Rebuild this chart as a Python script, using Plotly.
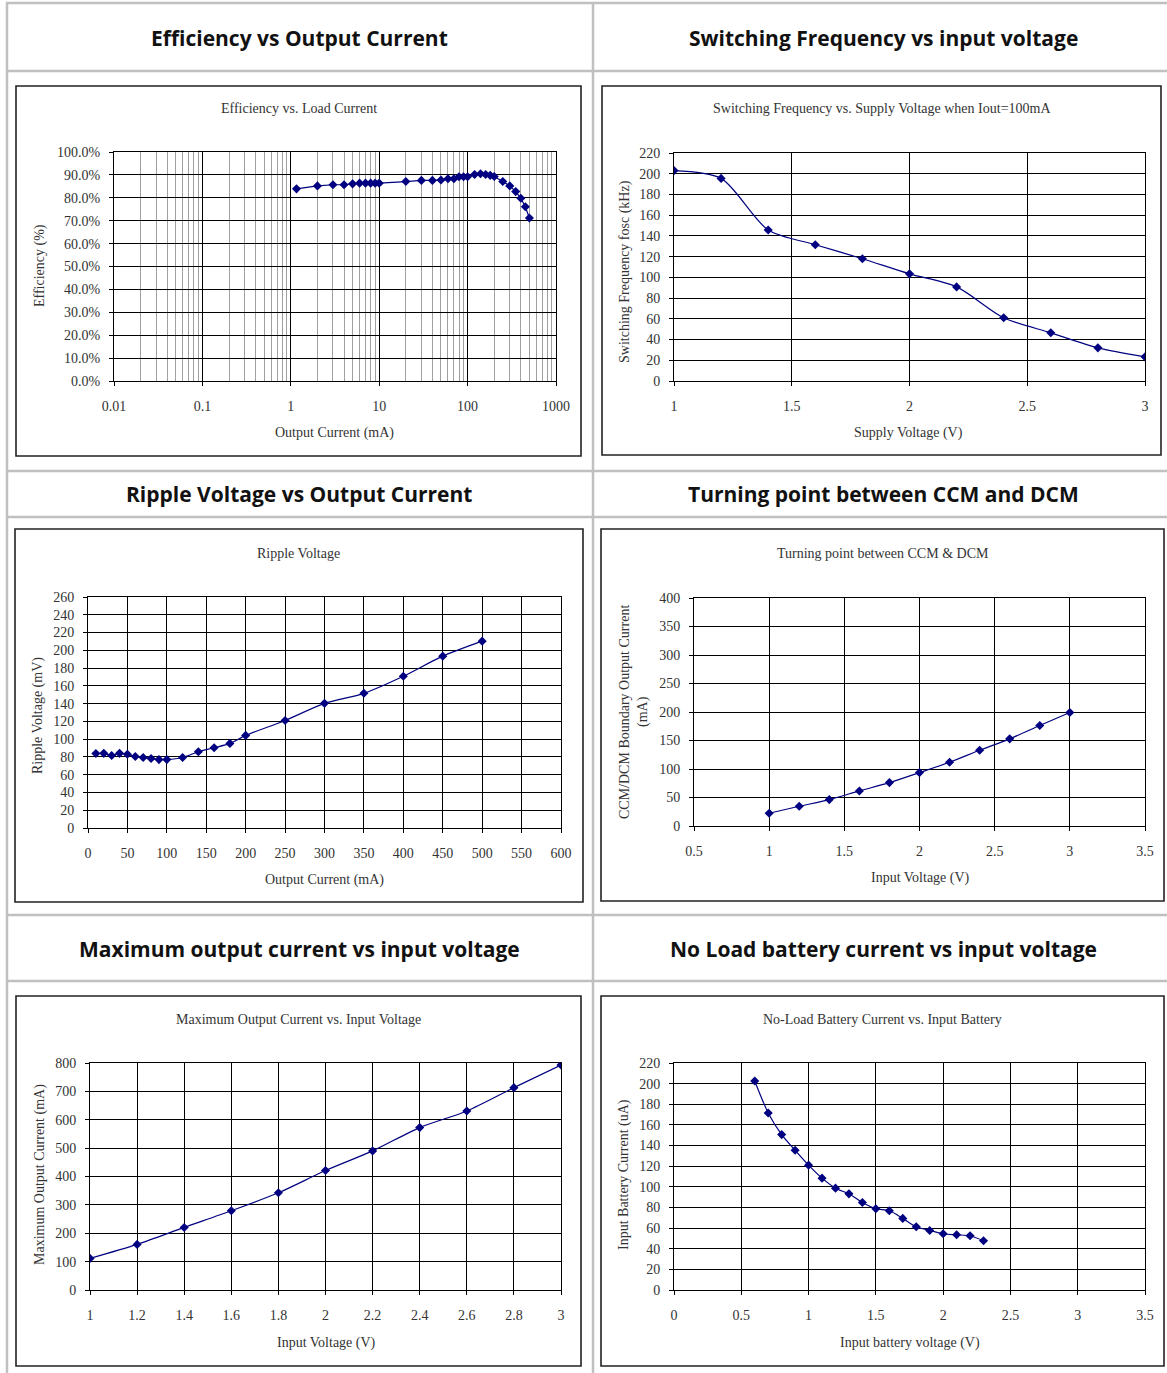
import plotly.graph_objects as go

W, H = 1167, 1373

# ---------------- data ----------------
eff_current_ma = [1.16, 2, 3, 4, 5, 6, 7, 8, 9, 10, 20, 30, 40, 50, 60, 70, 80, 90, 100,
                  120, 140, 160, 180, 200, 250, 300, 350, 400, 450, 500]
eff_pct = [83.9, 85.2, 85.7, 85.7, 86.1, 86.4, 86.4, 86.4, 86.4, 86.4, 87.1, 87.6, 87.6, 87.8,
           88.3, 88.3, 89.2, 89.2, 89.2, 90.2, 90.5, 90.2, 89.8, 89.3, 87.1, 85.2, 82.7, 79.8,
           76.1, 71.2]

fsw_voltage = [1.0, 1.2, 1.4, 1.6, 1.8, 2.0, 2.2, 2.4, 2.6, 2.8, 3.0]
fsw_khz = [203, 195.5, 145.7, 131.5, 118, 103.4, 90.8, 61, 46.5, 32, 23.3]

ripple_current_ma = [10, 20, 30, 40, 50, 60, 70, 80, 90, 100, 120, 140, 160, 180, 200,
                     250, 300, 350, 400, 450, 500]
ripple_mv = [83.8, 84, 81.6, 84, 83, 80.5, 79.4, 78.3, 77, 77, 79.4, 85.8, 90.3, 95.2, 104.2,
             121, 140.3, 151.6, 170.8, 193.4, 210.3]

ccm_voltage = [1.0, 1.2, 1.4, 1.6, 1.8, 2.0, 2.2, 2.4, 2.6, 2.8, 3.0]
ccm_current_ma = [22.3, 34.6, 46.3, 61.5, 76.1, 93.7, 111.9, 132.9, 152.9, 176.3, 199.1]

imax_voltage = [1.0, 1.2, 1.4, 1.6, 1.8, 2.0, 2.2, 2.4, 2.6, 2.8, 3.0]
imax_ma = [111.4, 160.7, 220.5, 279.2, 342.5, 421, 490.3, 572.4, 631, 713.2, 793]

noload_voltage = [0.6, 0.7, 0.8, 0.9, 1.0, 1.1, 1.2, 1.3, 1.4, 1.5, 1.6, 1.7, 1.8, 1.9,
                  2.0, 2.1, 2.2, 2.3]
noload_ua = [202.6, 171.6, 150.6, 135.5, 121, 108.4, 98.7, 93.2, 84.8, 78.7, 76.8, 69.4,
             61.3, 57.7, 54.5, 53.5, 52.6, 47.7]

eff_xticks = [0.01, 0.1, 1, 10, 100, 1000]
eff_xticklabels = ["0.01", "0.1", "1", "10", "100", "1000"]

headers = ["Efficiency vs Output Current", "Switching Frequency vs input voltage",
           "Ripple Voltage vs Output Current", "Turning point between CCM and DCM",
           "Maximum output current vs input voltage", "No Load battery current vs input voltage"]
chart_titles = ["Efficiency vs. Load Current",
                "Switching Frequency vs. Supply Voltage when Iout=100mA",
                "Ripple Voltage", "Turning point between CCM & DCM",
                "Maximum Output Current vs. Input Voltage",
                "No-Load Battery Current vs. Input Battery"]
x_titles = ["Output Current (mA)", "Supply Voltage (V)", "Output Current (mA)",
            "Input Voltage (V)", "Input Voltage (V)", "Input battery voltage (V)"]
y_titles = ["Efficiency (%)", "Switching Frequency fosc (kHz)", "Ripple Voltage (mV)",
            "CCM/DCM Boundary Output Current<br>(mA)", "Maximum Output Current (mA)",
            "Input Battery Current (uA)"]

# ---------------- layout helpers ----------------
def px(x):
    return x / W


def py(y):
    return 1 - y / H


SERIF = "Liberation Serif"
SANS = "Open Sans"
TXT = "#333333"
NAVY = "#000080"

# plot areas in pixels: (left, right, top, bottom)
areas = [
    (114, 556, 152, 381),
    (674, 1145, 153, 381),
    (88, 561, 597, 828),
    (694, 1145, 598, 826),
    (90, 561, 1063, 1290),
    (674, 1145, 1063, 1290),
]
# chart boxes (left, right, top, bottom)
boxes = [
    (16, 581, 86, 456),
    (602, 1161, 86, 455),
    (15, 583, 529, 902),
    (601, 1164, 529, 901),
    (16, 581, 996, 1366),
    (601, 1164, 996, 1366),
]
header_pos = [(299, 38), (883, 38), (299, 494), (883, 494), (299, 949), (883, 949)]
title_pos = [(299, 109), (882, 109), (298, 553), (883, 553), (298, 1019), (882, 1019)]
xtitle_pos = [(334, 433), (908, 433), (324, 880), (920, 878), (326, 1343), (910, 1343)]
ytitle_pos = [(40, 266), (625, 272), (38, 716), (634, 712), (40, 1175), (624, 1175)]

fig = go.Figure()

series = [
    (eff_current_ma, eff_pct, "linear"),
    (fsw_voltage, fsw_khz, "spline"),
    (ripple_current_ma, ripple_mv, "spline"),
    (ccm_voltage, ccm_current_ma, "spline"),
    (imax_voltage, imax_ma, "spline"),
    (noload_voltage, noload_ua, "spline"),
]

for i, (xs, ys, shape) in enumerate(series):
    sfx = "" if i == 0 else str(i + 1)
    line = dict(color=NAVY, width=1.2, shape=shape)
    if shape == "spline":
        line["smoothing"] = 0.8
    fig.add_trace(go.Scatter(
        x=xs, y=ys, mode="lines+markers", xaxis="x" + sfx, yaxis="y" + sfx,
        line=line, marker=dict(symbol="diamond", size=7, color=NAVY),
        showlegend=False, hoverinfo="skip"))

tickfont = dict(family=SERIF, size=14, color=TXT)


def axis_common():
    return dict(showline=True, linecolor="black", linewidth=1, mirror=True,
                showgrid=True, gridcolor="black", gridwidth=1, zeroline=False,
                ticks="outside", ticklen=4, tickcolor="black", tickwidth=1,
                tickfont=tickfont, fixedrange=True, ticklabelstandoff=6,
                automargin=False)


x_cfg = [
    dict(type="log", range=[-2, 3], tickvals=eff_xticks, ticktext=eff_xticklabels,
         minor=dict(tickvals=[m * 10 ** e for e in range(-2, 3) for m in range(2, 10)],
                    showgrid=True, gridcolor="#a0a0a0", gridwidth=1, ticks="")),
    dict(range=[1, 3], dtick=0.5, tick0=1),
    dict(range=[0, 600], dtick=50, tick0=0),
    dict(range=[0.5, 3.5], dtick=0.5, tick0=0.5),
    dict(range=[1, 3], dtick=0.2, tick0=1),
    dict(range=[0, 3.5], dtick=0.5, tick0=0),
]
y_cfg = [
    dict(range=[0, 100], dtick=10, ticksuffix="%", tickformat=".1f"),
    dict(range=[0, 220], dtick=20),
    dict(range=[0, 260], dtick=20),
    dict(range=[0, 400], dtick=50),
    dict(range=[0, 800], dtick=100),
    dict(range=[0, 220], dtick=20),
]

layout = dict(width=W, height=H, margin=dict(l=0, r=0, t=0, b=0, pad=0, autoexpand=False),
              autosize=False, paper_bgcolor="white", plot_bgcolor="white", showlegend=False)

for i, (l, r, t, b) in enumerate(areas):
    sfx = "" if i == 0 else str(i + 1)
    xa = axis_common()
    xa.update(x_cfg[i])
    xa["domain"] = [px(l), px(r)]
    xa["anchor"] = "y" + sfx
    xa["ticklabelstandoff"] = 8
    ya = axis_common()
    ya.update(y_cfg[i])
    ya["domain"] = [py(b), py(t)]
    ya["anchor"] = "x" + sfx
    layout["xaxis" + sfx] = xa
    layout["yaxis" + sfx] = ya

fig.update_layout(**layout)

shapes = []
GRAY = "#c0c0c0"
for yy in [3, 71, 471, 517, 915, 981]:
    shapes.append(dict(type="line", xref="paper", yref="paper", x0=px(6), x1=1,
                       y0=py(yy), y1=py(yy), line=dict(color=GRAY, width=2.5)))
for xx in [7, 593]:
    shapes.append(dict(type="line", xref="paper", yref="paper", x0=px(xx), x1=px(xx),
                       y0=py(2), y1=0, line=dict(color=GRAY, width=2.5)))
for (l, r, t, b) in boxes:
    shapes.append(dict(type="rect", xref="paper", yref="paper", x0=px(l), x1=px(r),
                       y0=py(b), y1=py(t), line=dict(color="#222222", width=1.6),
                       layer="below"))
fig.update_layout(shapes=shapes)

anns = []


def ann(text, pos, size, family, color=TXT, angle=0, bold=False):
    if bold:
        text = "<b>" + text + "</b>"
    anns.append(dict(text=text, x=px(pos[0]), y=py(pos[1]), xref="paper", yref="paper",
                     showarrow=False, textangle=angle, xanchor="center", yanchor="middle",
                     font=dict(family=family, size=size, color=color)))


for i in range(6):
    ann(headers[i], header_pos[i], 21, SANS, color="#111111", bold=True)
    ann(chart_titles[i], title_pos[i], 14, SERIF)
    ann(x_titles[i], xtitle_pos[i], 14, SERIF)
    ann(y_titles[i], ytitle_pos[i], 14, SERIF, angle=-90)
fig.update_layout(annotations=anns)

fig.write_html("out.html", config={"displayModeBar": False, "staticPlot": True},
               post_script="document.body.style.margin='0';document.body.style.overflow='hidden';")
